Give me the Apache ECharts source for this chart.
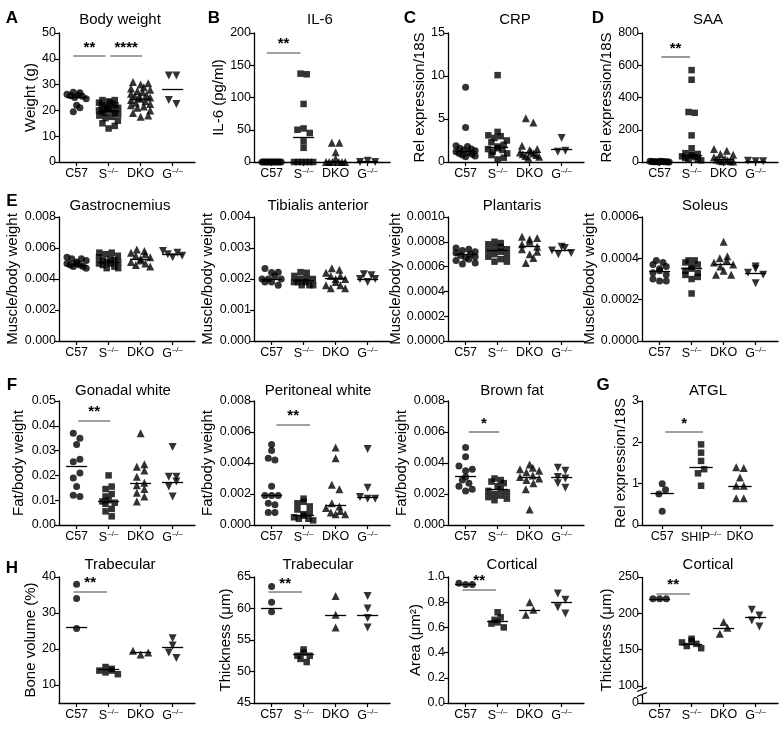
<!DOCTYPE html>
<html><head><meta charset="utf-8">
<script src="https://cdn.jsdelivr.net/npm/echarts@6/dist/echarts.min.js"></script>
<style>html,body{margin:0;padding:0;background:#fff}#c{width:783px;height:736px}</style>
</head><body><div id="c"></div>
<script>
// ---------- categories ----------
const cats4 = ['C57', 'S{s|–/–}', 'DKO', 'G{s|–/–}'];
const catsAtgl = ['C57', 'SHIP{s|–/–}', 'DKO'];

// ---------- data ----------
const bodyWeight = [
  [27, 26.8, 26.3, 26, 25.7, 25.5, 25, 24.5, 22, 21, 19.5],
  [24, 24, 23.5, 23, 23, 22.5, 22, 22, 21.5, 21, 21, 20.5, 20, 20, 19.5, 19, 19, 18.5, 18, 17.5, 17, 16, 15, 14, 13],
  [31, 30.5, 30, 29, 28.5, 28, 27.5, 27, 26.5, 26, 25.5, 25, 25, 24.5, 24, 23.5, 23, 22.5, 22, 21.5, 21, 20, 19, 18, 17.5],
  [33.5, 33.5, 24, 22.5]
];
const bodyWeightLine = [25, 19.6, 24.5, 28.3];

const il6 = [
  [0, 0, 0, 0, 0, 0, 0, 0, 0, 0, 0, 0],
  [137, 136, 90, 52, 50, 45, 32, 22, 0, 0, 0, 0, 0, 0],
  [30, 30, 15, 5, 0, 0, 0, 0, 0, 0],
  [0, 0, 2]
];
const il6Line = [0, 38.4, 0.5, 1];

const crp = [
  [8.7, 4.0, 1.9, 1.8, 1.6, 1.5, 1.4, 1.3, 1.2, 1.1, 1.0, 0.9, 0.8, 0.7, 0.6],
  [10.1, 3.5, 3.1, 3.0, 2.8, 2.5, 2.3, 2.0, 1.8, 1.6, 1.5, 1.4, 1.2, 1.0, 0.8, 0.5, 0.3],
  [5.1, 4.6, 1.9, 1.5, 1.4, 1.2, 1.1, 1.0, 0.9, 0.8, 0.7, 0.6, 0.5],
  [2.8, 1.3, 1.2]
];
const crpLine = [1.25, 1.75, 1.1, 1.5];

const saa = [
  [5, 4, 3, 3, 2, 2, 1, 1, 1, 0, 0, 0],
  [570, 510, 310, 305, 165, 85, 55, 50, 45, 40, 35, 30, 25, 20, 15, 10],
  [80, 70, 50, 45, 30, 20, 15, 10, 10, 5, 5, 3],
  [8, 5, 5]
];
const saaLine = [0, 41, 15, 5];

const gastro = [
  [0.0054, 0.0053, 0.0053, 0.0052, 0.0051, 0.0050, 0.0050, 0.0049, 0.0049, 0.0048, 0.0048, 0.0047],
  [0.0057, 0.0057, 0.0056, 0.0055, 0.0054, 0.0053, 0.0052, 0.0052, 0.0051, 0.0051, 0.0050, 0.0050, 0.0049, 0.0048, 0.0047, 0.0047],
  [0.0059, 0.0058, 0.0057, 0.0056, 0.0055, 0.0054, 0.0053, 0.0052, 0.0051, 0.0050, 0.0049, 0.0048],
  [0.0058, 0.0057, 0.0056, 0.0055, 0.0054]
];
const gastroLine = [0.00491, 0.00508, 0.0053, 0.00562];

const tibialis = [
  [0.00234, 0.00222, 0.00221, 0.0021, 0.0020, 0.0020, 0.0020, 0.0019, 0.0019, 0.0018],
  [0.00222, 0.0022, 0.0021, 0.0020, 0.0020, 0.0020, 0.0019, 0.0019, 0.0019, 0.0018, 0.0018, 0.0018],
  [0.00235, 0.0023, 0.0022, 0.0021, 0.0021, 0.0020, 0.0020, 0.0019, 0.0018, 0.0018, 0.0017, 0.0017],
  [0.00215, 0.00212, 0.0020, 0.0020, 0.0019]
];
const tibialisLine = [0.00199, 0.00197, 0.00202, 0.0020];

const plantaris = [
  [0.00075, 0.00074, 0.00073, 0.00072, 0.00071, 0.00070, 0.00069, 0.00068, 0.00067, 0.00066, 0.00065, 0.00063, 0.00062],
  [0.00080, 0.00079, 0.00078, 0.00076, 0.00075, 0.00074, 0.00073, 0.00072, 0.00070, 0.00069, 0.00068, 0.00066, 0.00064, 0.00064],
  [0.00084, 0.00083, 0.00082, 0.00080, 0.00078, 0.00076, 0.00074, 0.00072, 0.00070, 0.00067, 0.00063],
  [0.00076, 0.00075, 0.00073, 0.00071, 0.00070]
];
const plantarisLine = [0.000703, 0.00073, 0.000768, 0.00073];

const soleus = [
  [0.00039, 0.00038, 0.00037, 0.00036, 0.00035, 0.00034, 0.00033, 0.00032, 0.00030, 0.00029, 0.00029],
  [0.00039, 0.00039, 0.00038, 0.00037, 0.00036, 0.00035, 0.00034, 0.00033, 0.00032, 0.00031, 0.00030, 0.00023],
  [0.00048, 0.00041, 0.00040, 0.00039, 0.00038, 0.00037, 0.00036, 0.00034, 0.00032, 0.00032],
  [0.00036, 0.00035, 0.00033, 0.00032, 0.00028]
];
const soleusLine = [0.000339, 0.000352, 0.000373, 0.000328];

const gonadal = [
  [0.037, 0.035, 0.0325, 0.0265, 0.0255, 0.021, 0.019, 0.0155, 0.012, 0.0115],
  [0.020, 0.0155, 0.0145, 0.0125, 0.0115, 0.0100, 0.0095, 0.0090, 0.0085, 0.0065, 0.0055, 0.0035],
  [0.037, 0.0245, 0.0235, 0.022, 0.0195, 0.017, 0.016, 0.0145, 0.013, 0.0115, 0.0095],
  [0.0315, 0.0195, 0.0195, 0.0175, 0.0155, 0.0115]
];
const gonadalLine = [0.0238, 0.0095, 0.017, 0.0172];

const peritoneal = [
  [0.0052, 0.0048, 0.0043, 0.0042, 0.0025, 0.0019, 0.0019, 0.0019, 0.0014, 0.0013, 0.0008, 0.0008],
  [0.0017, 0.0015, 0.0014, 0.0012, 0.0010, 0.0008, 0.0007, 0.0006, 0.0005, 0.0004, 0.0004, 0.0003],
  [0.0050, 0.0043, 0.0026, 0.0023, 0.0014, 0.0012, 0.0011, 0.0009, 0.0008, 0.0007, 0.0007],
  [0.0049, 0.0024, 0.0018, 0.0017, 0.0017]
];
const peritonealLine = [0.0019, 0.00062, 0.0013, 0.0018];

const brownFat = [
  [0.0050, 0.0044, 0.0038, 0.0036, 0.0035, 0.0031, 0.0029, 0.0027, 0.0025, 0.0023, 0.0022],
  [0.0030, 0.0029, 0.0028, 0.0027, 0.0025, 0.0023, 0.0022, 0.0021, 0.0020, 0.0019, 0.0018, 0.0017, 0.0016],
  [0.0039, 0.0037, 0.0036, 0.0035, 0.0034, 0.0032, 0.0031, 0.0030, 0.0029, 0.0027, 0.0023, 0.0010],
  [0.0037, 0.0035, 0.0031, 0.0030, 0.0027, 0.0024]
];
const brownFatLine = [0.00315, 0.00228, 0.00307, 0.00309];

const atgl = [
  [1.0, 0.85, 0.75, 0.33],
  [1.95, 1.75, 1.55, 1.35, 1.25, 0.95],
  [1.4, 1.38, 1.15, 0.95, 0.95, 0.65, 0.65]
];
const atglLine = [0.77, 1.39, 0.94];

const boneVolume = [
  [38, 34, 25.7],
  [15, 14.5, 14, 14, 13.5, 13],
  [19.5, 19, 18.5],
  [23, 21, 19, 17.5]
];
const boneVolumeLine = [26, 14.5, 19, 20.5];

const trabThick = [
  [63.5, 61, 59.5],
  [53.5, 53, 52.5, 52.5, 52, 51.5],
  [62, 59, 57],
  [62, 60, 58.5, 57]
];
const trabThickLine = [60, 52.8, 59, 59];

const cortArea = [
  [0.95, 0.94, 0.94],
  [0.72, 0.68, 0.66, 0.64, 0.63, 0.60],
  [0.80, 0.74, 0.70],
  [0.87, 0.82, 0.76, 0.71]
];
const cortAreaLine = [0.94, 0.65, 0.74, 0.80];

const cortThick = [
  [220, 220, 220],
  [165, 162, 160, 158, 155, 152],
  [188, 180, 172],
  [205, 197, 190, 182]
];
const cortThickLine = [220, 158, 180, 195];
const cortThickTicks = [0, 100, 150, 200, 250];

// ---------- layout / styling ----------
const FONT = '"Liberation Sans", Arial, Helvetica, sans-serif';
const colX = [59, 254, 448, 642];
const rowY = [33, 217, 401, 577];
const rowH = [129, 124, 124, 126];
const SYMBOLS = [
  {symbol: 'circle', size: 7, rot: 0},
  {symbol: 'rect', size: 6.5, rot: 0},
  {symbol: 'triangle', size: 8, rot: 0},
  {symbol: 'triangle', size: 8, rot: 180}
];

const panels = [
  {d: bodyWeight, m: bodyWeightLine, c: cats4, r: 0, k: 0, title: 'Body weight', tx: 120, yName: 'Weight (g)', nx: 32, L: 'A',
   y: {min: 0, max: 50, interval: 10, dec: 0}, sig: [[-0.1, 0.9, 41, '**'], [1.05, 2.05, 41, '****']]},
  {d: il6, m: il6Line, c: cats4, r: 0, k: 1, title: 'IL-6', tx: 320, yName: 'IL-6 (pg/ml)', nx: 227, L: 'B',
   y: {min: 0, max: 200, interval: 50, dec: 0}, sig: [[-0.15, 0.9, 170, '**']]},
  {d: crp, m: crpLine, c: cats4, r: 0, k: 2, title: 'CRP', tx: 515, yName: 'Rel expression/18S', nx: 423, L: 'C',
   y: {min: 0, max: 15, interval: 5, dec: 0}, sig: []},
  {d: saa, m: saaLine, c: cats4, r: 0, k: 3, title: 'SAA', tx: 708, yName: 'Rel expression/18S', nx: 617, L: 'D',
   y: {min: 0, max: 800, interval: 200, dec: 0}, sig: [[0.05, 0.95, 650, '**']]},
  {d: gastro, m: gastroLine, c: cats4, r: 1, k: 0, title: 'Gastrocnemius', tx: 120, yName: 'Muscle/body weight', nx: 13, L: 'E',
   y: {min: 0, max: 0.008, interval: 0.002, dec: 3}, sig: []},
  {d: tibialis, m: tibialisLine, c: cats4, r: 1, k: 1, title: 'Tibialis anterior', tx: 318, yName: 'Muscle/body weight', nx: 208,
   y: {min: 0, max: 0.004, interval: 0.001, dec: 3}, sig: []},
  {d: plantaris, m: plantarisLine, c: cats4, r: 1, k: 2, title: 'Plantaris', tx: 512, yName: 'Muscle/body weight', nx: 403,
   y: {min: 0, max: 0.001, interval: 0.0002, dec: 4}, sig: []},
  {d: soleus, m: soleusLine, c: cats4, r: 1, k: 3, title: 'Soleus', tx: 705, yName: 'Muscle/body weight', nx: 597,
   y: {min: 0, max: 0.0006, interval: 0.0002, dec: 4}, sig: []},
  {d: gonadal, m: gonadalLine, c: cats4, r: 2, k: 0, title: 'Gonadal white', tx: 123, yName: 'Fat/body weight', nx: 18, L: 'F',
   y: {min: 0, max: 0.05, interval: 0.01, dec: 2}, sig: [[0.05, 1.05, 0.042, '**']]},
  {d: peritoneal, m: peritonealLine, c: cats4, r: 2, k: 1, title: 'Peritoneal white', tx: 318, yName: 'Fat/body weight', nx: 213,
   y: {min: 0, max: 0.008, interval: 0.002, dec: 3}, sig: [[0.15, 1.2, 0.0065, '**']]},
  {d: brownFat, m: brownFatLine, c: cats4, r: 2, k: 2, title: 'Brown fat', tx: 512, yName: 'Fat/body weight', nx: 408,
   y: {min: 0, max: 0.008, interval: 0.002, dec: 3}, sig: [[0.1, 1.05, 0.006, '*']]},
  {d: atgl, m: atglLine, c: catsAtgl, r: 2, k: 3, title: 'ATGL', tx: 708, yName: 'Rel expression/18S', nx: 620, L: 'G',
   y: {min: 0, max: 3, interval: 1, dec: 0}, sig: [[0.08, 1.05, 2.25, '*']], three: true},
  {d: boneVolume, m: boneVolumeLine, c: cats4, r: 3, k: 0, title: 'Trabecular', tx: 120, yName: 'Bone volume (%)', nx: 30, L: 'H',
   y: {min: 5, max: 40, ticks: [10, 20, 30, 40], dec: 0}, sig: [[-0.1, 0.95, 36, '**']]},
  {d: trabThick, m: trabThickLine, c: cats4, r: 3, k: 1, title: 'Trabecular', tx: 318, yName: 'Thickness (μm)', nx: 225,
   y: {min: 45, max: 65, interval: 5, dec: 0}, sig: [[-0.1, 0.95, 62.6, '**']]},
  {d: cortArea, m: cortAreaLine, c: cats4, r: 3, k: 2, title: 'Cortical', tx: 512, yName: 'Area (μm²)', nx: 420,
   y: {min: 0, max: 1.0, interval: 0.2, dec: 1}, sig: [[-0.1, 0.95, 0.9, '**']]},
  {d: cortThick, m: cortThickLine, c: cats4, r: 3, k: 3, title: 'Cortical', tx: 708, yName: 'Thickness (μm)', nx: 612,
   y: {min: 0, max: 250, ticks: cortThickTicks, dec: 0, brk: [10, 97]}, sig: [[-0.1, 0.95, 227, '**']]}
];

const letterPos = {A: [12, 18], B: [214, 18], C: [410, 18], D: [598, 18], E: [12, 201], F: [12, 385], G: [603, 385], H: [12, 568]};
const titleY = [20, 206, 391, 565];

function swarm(vals, ymin, ymax, hpx, unitPx, size, maxHalfUnits) {
  const idx = vals.map((v, i) => i).sort((a, b) => vals[a] - vals[b]);
  const off = new Array(vals.length).fill(0);
  const groups = [];
  let cur = [], start = null;
  for (const i of idx) {
    const py = (vals[i] - ymin) / (ymax - ymin) * hpx;
    if (start === null || py - start > size * 0.8) {
      if (cur.length) groups.push(cur);
      cur = [i]; start = py;
    } else cur.push(i);
  }
  if (cur.length) groups.push(cur);
  for (const g of groups) {
    const n = g.length;
    const maxHalf = maxHalfUnits * unitPx;
    let sp = size * 0.95;
    if (n > 1 && (n - 1) * sp / 2 > maxHalf) sp = 2 * maxHalf / (n - 1);
    const order = g.slice().sort((a, b) => (a % 2) - (b % 2) || a - b);
    order.forEach((i, j) => { off[i] = (j - (n - 1) / 2) * sp / unitPx; });
  }
  return off;
}

const grid = [], xAxis = [], yAxis = [], series = [], graphic = [];
const axisCol = '#000';
const rich = {s: {fontSize: 8, fontFamily: FONT, color: '#000', verticalAlign: 'bottom', padding: [0, 0, 7, 0]}};

panels.forEach((p, gi) => {
  const three = !!p.three;
  const xmin = three ? -0.52 : -0.55;
  const xmax = three ? 2.85 : 3.7;
  const w = three ? 131 : 136;
  const left = colX[p.k], top = rowY[p.r], h = rowH[p.r];
  grid.push({left, top, width: w, height: h});
  const idxs = p.c.map((_, i) => i);
  xAxis.push({
    gridIndex: gi, type: 'value', min: xmin, max: xmax,
    axisLine: {show: true, onZero: false, lineStyle: {color: axisCol, width: 1.3}},
    axisTick: {show: true, customValues: idxs, length: 4, lineStyle: {color: axisCol, width: 1.2}},
    axisLabel: {customValues: idxs, formatter: v => p.c[Math.round(v)], color: '#000', fontSize: 12.5, fontFamily: FONT, margin: 5, rich},
    splitLine: {show: false}
  });
  const ya = {
    gridIndex: gi, type: 'value', min: p.y.min, max: p.y.max,
    name: p.yName, nameLocation: 'middle', nameGap: left - p.nx - 8,
    nameTextStyle: {fontSize: 15, fontFamily: FONT, color: '#000'},
    axisLine: {show: true, onZero: false, lineStyle: {color: axisCol, width: 1.3}},
    axisTick: {show: true, length: 4, lineStyle: {color: axisCol, width: 1.2}},
    axisLabel: {color: '#000', fontSize: 12.5, fontFamily: FONT, margin: 3, formatter: v => (+v).toFixed(p.y.dec)},
    splitLine: {show: false}
  };
  if (p.y.ticks) {
    ya.axisLabel.customValues = p.y.ticks;
    ya.axisTick.customValues = p.y.ticks;
  } else ya.interval = p.y.interval;
  if (p.y.brk) {
    ya.breaks = [{start: p.y.brk[0], end: p.y.brk[1], gap: '6%'}];
    ya.breakArea = {show: false};
  }
  yAxis.push(ya);

  const unitPx = w / (xmax - xmin);
  p.d.forEach((vals, g) => {
    const sym = SYMBOLS[g];
    const off = swarm(vals, p.y.min, p.y.max, h, unitPx, sym.size, 0.3);
    const s = {
      type: 'scatter', xAxisIndex: gi, yAxisIndex: gi,
      symbol: sym.symbol, symbolSize: sym.size, symbolRotate: sym.rot,
      itemStyle: {color: '#000'}, silent: true,
      data: vals.map((v, i) => [g + off[i], v])
    };
    if (g === 0) {
      const ml = [];
      p.m.forEach((mv, j) => {
        const hw = three ? 0.3 : 0.33;
        ml.push([{coord: [j - hw, mv], lineStyle: {color: '#000', width: 1.3, type: 'solid'}, label: {show: false}}, {coord: [j + hw, mv]}]);
      });
      p.sig.forEach(sg => {
        ml.push([{coord: [sg[0], sg[2]], lineStyle: {color: '#808080', width: 1.6, type: 'solid'},
          label: {show: true, position: 'insideMiddleTop', formatter: sg[3], color: '#000', fontSize: 15, fontWeight: 'bold', fontFamily: FONT, distance: 1}},
          {coord: [sg[1], sg[2]]}]);
      });
      s.markLine = {silent: true, symbol: ['none', 'none'], animation: false, data: ml};
    }
    series.push(s);
  });

  graphic.push({type: 'text', x: p.tx, y: titleY[p.r],
    style: {text: p.title, fontSize: 15, fontFamily: FONT, fill: '#000', align: 'center', verticalAlign: 'middle', textAlign: 'center', textVerticalAlign: 'middle'}});
  if (p.L) {
    const lp = letterPos[p.L];
    graphic.push({type: 'text', x: lp[0], y: lp[1],
      style: {text: p.L, fontSize: 17, fontWeight: 'bold', fontFamily: FONT, fill: '#000', align: 'center', verticalAlign: 'middle', textAlign: 'center', textVerticalAlign: 'middle'}});
  }
});

const chart = echarts.init(document.getElementById('c'), null, {renderer: 'canvas'});
const option = {animation: false, backgroundColor: '#fff', textStyle: {fontFamily: FONT}, grid, xAxis, yAxis, series, graphic};
let brokeOk = true;
try {
  chart.setOption(option);
} catch (e) {
  brokeOk = false;
  yAxis.forEach(a => { delete a.breaks; delete a.breakArea; });
  chart.setOption(option, true);
}
// axis break mark on the last panel's y axis
const bi = panels.length - 1;
const bp = panels[bi];
if (bp.y.brk) {
  const yA = chart.convertToPixel({yAxisIndex: bi}, bp.y.brk[0]);
  const yB = chart.convertToPixel({yAxisIndex: bi}, bp.y.brk[1]);
  const ax = colX[bp.k];
  const yc = (yA + yB) / 2;
  const extra = [
    {type: 'rect', shape: {x: ax - 6, y: yc - 2.5, width: 12, height: 5}, style: {fill: '#fff'}, z: 100},
    {type: 'line', shape: {x1: ax - 5, y1: yc - 0.5, x2: ax + 5, y2: yc - 4.5}, style: {stroke: '#000', lineWidth: 1.2}, z: 101},
    {type: 'line', shape: {x1: ax - 5, y1: yc + 4.5, x2: ax + 5, y2: yc + 0.5}, style: {stroke: '#000', lineWidth: 1.2}, z: 101}
  ];
  chart.setOption({graphic: graphic.concat(extra)});
}
</script>
</body></html>
